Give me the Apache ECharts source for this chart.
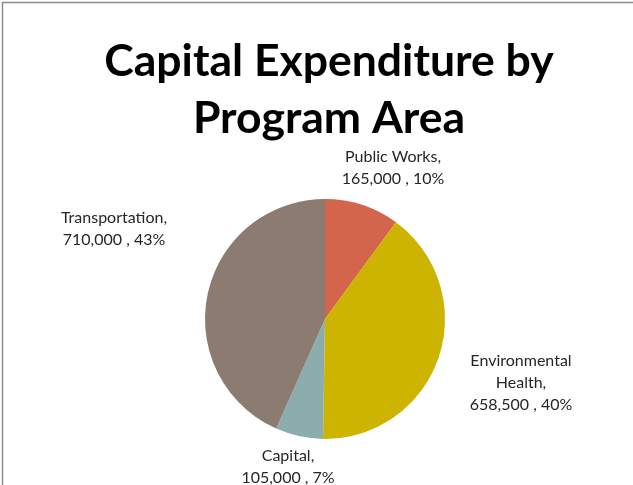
<!DOCTYPE html>
<html>
<head>
<meta charset="utf-8">
<script src="https://cdn.jsdelivr.net/npm/echarts@6/dist/echarts.min.js"></script>
<style>
  html, body { margin: 0; padding: 0; background: #fff; }
  #chart { width: 633px; height: 485px; }
</style>
</head>
<body>
<div id="chart"></div>
<script>
// Capital expenditure by program area
const categories = ['Public Works', 'Environmental Health', 'Capital', 'Transportation'];
const amounts = [165000, 658500, 105000, 710000];
const percentLabels = ['10%', '40%', '7%', '43%'];
const sliceColors = ['#D2654B', '#CDB400', '#8CADAE', '#8B7B70'];

const pieCenter = [325, 319];
const pieRadius = 120;
// label block centres, relative to the pie centre
const labelOffsets = [[68, -151], [196, 64], [-37, 148], [-211, -90]];

const labelNames = ['Public Works,', 'Environmental\nHealth,', 'Capital,', 'Transportation,'];
const fmt = n => n.toLocaleString('en-US');

const chart = echarts.init(document.getElementById('chart'), null, { renderer: 'canvas' });
chart.setOption({
  backgroundColor: '#fff',
  animation: false,
  title: {
    text: 'Capital Expenditure by\nProgram Area',
    left: 324,
    top: 28,
    textAlign: 'center',
    textStyle: {
      fontFamily: 'Lato',
      fontWeight: 'bold',
      fontSize: 44.5,
      lineHeight: 57,
      color: '#000'
    }
  },
  graphic: [{
    type: 'rect',
    shape: { x: 2.5, y: 2.5, width: 700, height: 600 },
    style: { fill: 'none', stroke: '#8c8c8c', lineWidth: 1.5 },
    silent: true
  }],
  series: [{
    type: 'pie',
    center: pieCenter,
    radius: pieRadius,
    startAngle: 90,
    clockwise: true,
    silent: true,
    itemStyle: { borderWidth: 0 },
    label: {
      show: true,
      position: 'outside',
      fontFamily: 'Lato',
      fontSize: 16,
      lineHeight: 22,
      color: '#262626',
      align: 'center',
      formatter: p => labelNames[p.dataIndex] + '\n' + fmt(p.value) + ' , ' + percentLabels[p.dataIndex]
    },
    labelLine: { show: false },
    labelLayout: p => {
      const o = labelOffsets[p.dataIndex];
      return {
        x: pieCenter[0] + o[0],
        y: pieCenter[1] + o[1],
        align: 'center',
        verticalAlign: 'middle'
      };
    },
    data: categories.map((c, i) => ({
      name: c,
      value: amounts[i],
      itemStyle: { color: sliceColors[i] }
    }))
  }]
});
</script>
</body>
</html>
